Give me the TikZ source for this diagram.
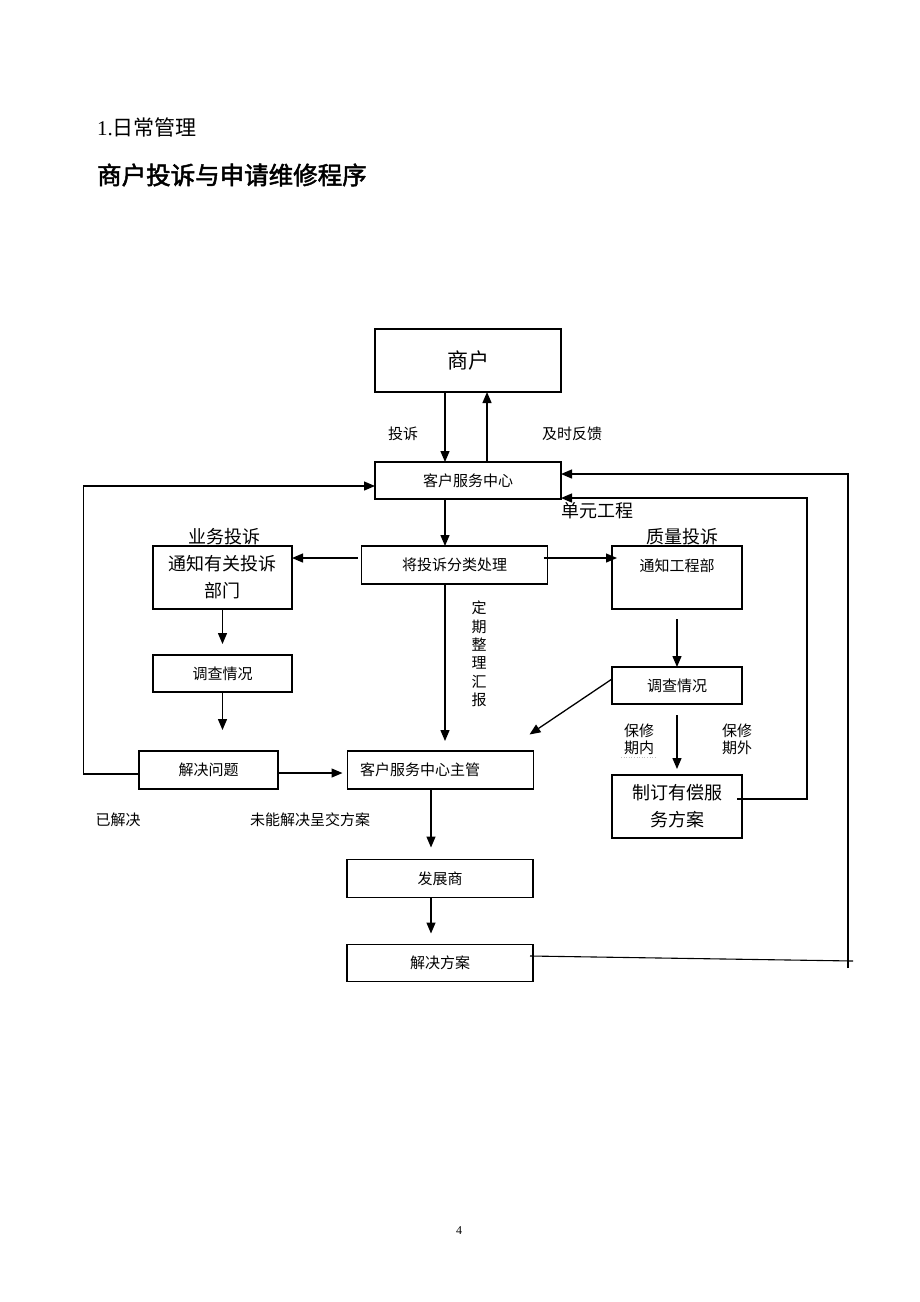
\documentclass[tikz,border=0pt]{standalone}
\usepackage{fontspec}
\setmainfont{Liberation Serif}
\newfontfamily\cjk{Noto Sans CJK SC}
\newfontfamily\cjkb[FakeBold=2]{Noto Sans CJK SC}
\usetikzlibrary{arrows.meta,calc}
\tikzset{
  box/.style={draw, line width=1.1pt, rectangle, inner sep=0pt, outer sep=0pt, font=\cjk\fontsize{15}{18}\selectfont},
  arr/.style={line width=1.3pt, -{Triangle[length=11pt,width=9pt]}},
  ln/.style={line width=1.1pt},
  lbl/.style={inner sep=0pt, font=\cjk\fontsize{15}{17}\selectfont, align=center},
  big/.style={font=\cjk\fontsize{18}{27}\selectfont, align=center}
}
\begin{document}
\begin{tikzpicture}[x=1pt,y=-1pt]
\useasboundingbox[fill=white] (0,0) rectangle (920,1302);
% headings
\node[anchor=west, inner sep=0pt] (h1) at (97,127) {\fontsize{21}{24}\selectfont 1.{\cjk 日常管理}};
\node[anchor=west, inner sep=0pt] (h2) at (97,175) {\cjkb\fontsize{24.5}{28}\selectfont 商户投诉与申请维修程序};
% boxes
\node[box, minimum width=186pt, minimum height=63pt, font=\cjk\fontsize{21}{24}\selectfont] (sh) at (468,360.5) {商户};
\node[box, minimum width=186pt, minimum height=37pt] (kf) at (468,480.5) {客户服务中心};
\node[box, minimum width=186pt, minimum height=38pt] (fl) at (454.5,565) {将投诉分类处理};
\node[box, minimum width=139pt, minimum height=63pt, big] (tzL) at (222.5,577.5) {通知有关投诉\\部门};
\node[box, minimum width=130pt, minimum height=63pt] (tzR) at (677,577.5) {};
\node[lbl] (tzRt) at (677,566) {通知工程部};
\node[box, minimum width=139pt, minimum height=37pt] (dcL) at (222.5,673.5) {调查情况};
\node[box, minimum width=139pt, minimum height=38pt] (jjwt) at (208.5,770) {解决问题};
\node[box, minimum width=186pt, minimum height=38pt] (zg) at (440.5,770) {};
\node[lbl, anchor=west] (zgt) at (360,770) {客户服务中心主管};
\node[box, minimum width=130pt, minimum height=37pt] (dcR) at (677,685.5) {调查情况};
\node[box, minimum width=130pt, minimum height=63pt, big] (zd) at (677,806.5) {制订有偿服\\务方案};
\node[box, minimum width=186pt, minimum height=38pt] (fz) at (440,878.5) {发展商};
\node[box, minimum width=186pt, minimum height=37pt] (fa) at (440,963) {解决方案};
% labels
\node[lbl] (ts) at (403,434) {投诉};
\node[lbl] (fk) at (572,434) {及时反馈};
\node[lbl, font=\cjk\fontsize{18}{20}\selectfont, anchor=south] (ywts) at (224,545) {业务投诉};
\node[lbl, font=\cjk\fontsize{18}{20}\selectfont, anchor=south] (zlts) at (682,545) {质量投诉};
\node[lbl, font=\cjk\fontsize{18}{20}\selectfont, anchor=west] (dygc) at (561,511) {单元工程};
\node[lbl, font=\cjk\fontsize{15}{18.3}\selectfont, anchor=north] (dq) at (479,601) {定\\期\\整\\理\\汇\\报};
\node[lbl, font=\cjk\fontsize{15}{17.5}\selectfont] (bxn) at (639,739.5) {保修\\期内};
\node[lbl, font=\cjk\fontsize{15}{17.5}\selectfont] (bxw) at (737,739.5) {保修\\期外};
\node[lbl] (yjj) at (118,820) {已解决};
\node[lbl] (wn) at (310,820) {未能解决呈交方案};
\node[inner sep=0pt, font=\fontsize{12}{14}\selectfont] (pg) at (459,1231) {4};
\draw[black!25, dotted, line width=0.6pt] ([xshift=-18pt,yshift=-2pt]bxn.south) -- ([xshift=18pt,yshift=-2pt]bxn.south);
% connectors
\draw[arr] ([xshift=-23pt]sh.south) -- ([xshift=-23pt]kf.north);
\draw[arr] ([xshift=19pt]kf.north) -- ([xshift=19pt]sh.south);
\draw[arr] ([xshift=-23pt]kf.south) -- ([xshift=-9.5pt]fl.north);
\draw[arr] ([xshift=-4pt,yshift=7pt]fl.west) coordinate (a1) -- (a1 -| tzL.east);
\draw[arr] ([xshift=-4pt,yshift=7pt]fl.east) coordinate (a2) -- ($(a2 -| tzR.west)+(5,0)$);
\draw[arr, shorten >=10pt] ([xshift=-9.5pt]fl.south) -- ([xshift=4.5pt]zg.north);
\draw[arr, shorten >=11pt] (tzL.south) -- (dcL.north);
\draw[arr, shorten >=21pt] (dcL.south) -- ([xshift=14pt]jjwt.north);
\draw[arr] ([yshift=-3pt]jjwt.east) -- ([xshift=-5pt,yshift=-3pt]zg.west);
\coordinate (lx) at (83.5,486);
\draw[arr] ([yshift=-4pt]jjwt.west) -| (lx) -- (lx -| kf.west);
\draw[arr] ([yshift=-10pt]tzR.south) -- (dcR.north);
\draw[arr] ([yshift=6.5pt]dcR.west) -- (529.5,734.5) coordinate (dg);
\draw[arr, shorten <=11pt, shorten >=6pt] (dcR.south) -- (zd.north);
\draw[arr] ([xshift=-5pt,yshift=7.5pt]zd.east) -- ++(70,0) coordinate (r1) |- ([yshift=-17.5pt]kf.east);
\draw[arr, shorten >=12pt] ([xshift=-9.5pt]zg.south) -- ([xshift=-9pt]fz.north);
\draw[arr, shorten >=11pt] ([xshift=-9pt]fz.south) -- ([xshift=-9pt]fa.north);
\draw[ln] ([xshift=-3pt,yshift=7pt]fa.east) -- (853,961) coordinate (r2);
\coordinate (r3) at (848,968);
\coordinate (r4) at (848,474);
\draw[arr] (r3) -- (r4) -- (r4 -| kf.east);
\end{tikzpicture}
\end{document}
